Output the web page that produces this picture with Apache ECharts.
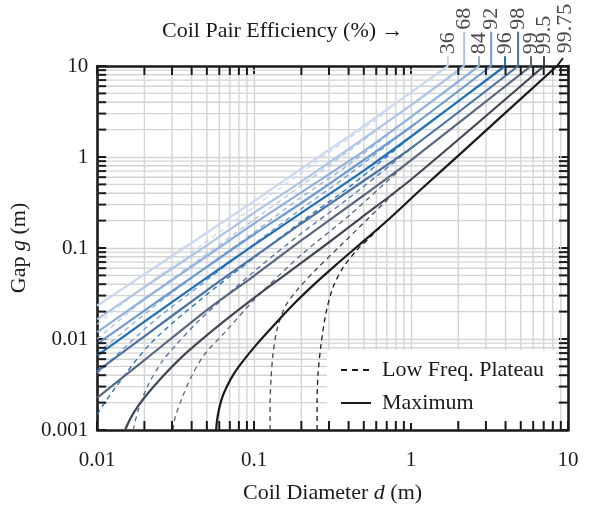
<!DOCTYPE html>
<html><head><meta charset="utf-8">
<script src="https://cdn.jsdelivr.net/npm/echarts@6/dist/echarts.min.js"></script>
<style>html,body{margin:0;padding:0;background:#fff}#c{width:595px;height:509px}</style>
</head><body><div id="c"></div>
<script>
// ---- categories / labels ----
const efficiencyLabels = ['36','68','84','92','96','98','99','99.5','99.75'];
const lineColors = ['#c9d8ef','#adc4e7','#8fb0de','#6b9ad3','#1c6fb8','#4b72a6','#58677f','#414855','#1a1a1a'];
const xTickLabels = ['0.01','0.1','1','10'];
const yTickLabels = ['0.001','0.01','0.1','1','10'];
const minorMultipliers = [2,3,4,5,6,7,8,9];
const xDecades = [0.01,0.1,1];
const yDecades = [0.001,0.01,0.1,1];

// ---- Maximum gap curves (solid) [d, g] ----
const max36 = [[0.01,0.0232],[0.02,0.0515],[0.05,0.147],[0.1,0.328],[0.2,0.743],[0.5,2.20],[1,5.13],[1.72,10]];
const max68 = [[0.01,0.0164],[0.02,0.0372],[0.05,0.107],[0.1,0.244],[0.2,0.537],[0.5,1.60],[1,3.71],[2.18,10]];
const max84 = [[0.01,0.0119],[0.02,0.0275],[0.05,0.0814],[0.1,0.186],[0.2,0.409],[0.5,1.16],[1,2.76],[2.71,10]];
const max92 = [[0.01,0.00883],[0.02,0.0205],[0.05,0.062],[0.1,0.1415],[0.2,0.312],[0.5,0.927],[1,2.15],[3.24,10]];
const max96 = [[0.01,0.00656],[0.02,0.0155],[0.05,0.0472],[0.1,0.108],[0.2,0.243],[0.5,0.709],[1,1.68],[3.97,10]];
const max98 = [[0.01,0.00442],[0.02,0.0107],[0.05,0.0343],[0.1,0.080],[0.2,0.186],[0.5,0.548],[1,1.25],[4.81,10]];
const max99 = [[0.01,0.00226],[0.02,0.00586],[0.05,0.0208],[0.1,0.0495],[0.2,0.121],[0.5,0.38],[0.9157,0.82],[5.81,10]];
const max995 = [[0.01508,0.001],[0.01576,0.00119],[0.01746,0.00164],[0.0202,0.00232],[0.0252,0.00362],[0.0338,0.00609],[0.0453,0.00952],[0.06535,0.016],[0.1,0.0283],[0.153,0.0488],[0.2633,0.0975],[0.4734,0.2102],[1,0.566],[7.03,10]];
const max9975 = [[0.0573,0.001],[0.0581,0.00128],[0.0599,0.00172],[0.0625,0.00226],[0.0673,0.00305],[0.0746,0.0042],[0.0864,0.00594],[0.1045,0.00884],[0.1302,0.01346],[0.1696,0.0221],[0.2274,0.0362],[0.3281,0.064],[0.4734,0.1104],[0.6831,0.1904],[1.141,0.431],[2.051,1.077],[8.51,10]];

// ---- Low frequency plateau curves (dashed) [d, g] ----
const plat36 = [[0.01,0.0145],[0.02176,0.042],[0.0453,0.1051],[0.1,0.2829],[0.1963,0.6567],[0.4088,1.641],[0.6346,2.76],[0.75,3.61]];
const plat68 = [[0.01,0.01],[0.02176,0.0305],[0.0453,0.0762],[0.1,0.205],[0.1963,0.4757],[0.4088,1.189],[0.7349,2.55]];
const plat84 = [[0.01,0.0069],[0.02176,0.021],[0.0453,0.0552],[0.1,0.1486],[0.1963,0.3536],[0.4088,0.841],[0.8509,2.24]];
const plat92 = [[0.01,0.0042],[0.02176,0.0145],[0.0453,0.039],[0.1,0.1104],[0.1963,0.2626],[0.4088,0.6567],[0.9157,1.93]];
const plat96 = [[0.01,0.00149],[0.01302,0.0029],[0.02176,0.00884],[0.0453,0.0269],[0.1,0.0781],[0.1963,0.1904],[0.4088,0.4757],[0.9854,1.641]];
const plat98 = [[0.01696,0.001],[0.01824,0.00164],[0.02113,0.00312],[0.02594,0.00566],[0.0314,0.00841],[0.0453,0.0164],[0.1,0.0552],[0.1963,0.1414],[0.4088,0.3623],[1.141,1.486]];
const plat99 = [[0.03049,0.001],[0.0314,0.00138],[0.03478,0.00226],[0.04028,0.004],[0.04873,0.0069],[0.06535,0.0119],[0.1,0.0269],[0.1963,0.082],[0.4088,0.232],[0.9157,0.82]];
const plat995 = [[0.1264,0.001],[0.1264,0.002],[0.1283,0.00372],[0.1321,0.0069],[0.1401,0.0128],[0.1576,0.0226],[0.1879,0.0345],[0.2446,0.0566],[0.353,0.1051],[0.5481,0.2208],[0.8509,0.4642]];
const plat9975 = [[0.2519,0.001],[0.2519,0.002],[0.2557,0.0042],[0.2673,0.00884],[0.2874,0.0195],[0.3186,0.0372],[0.3688,0.0609],[0.4465,0.0928],[0.5481,0.1313],[0.6831,0.1904]];

// ---- efficiency label leaders (above plot) ----
const labelLeaderEnd = [[1.72,12.8],[2.18,23.8],[2.71,12.8],[3.24,23.8],[3.97,12.8],[4.81,23.8],[5.81,12.8],[7.03,12.8],[9.29,12.2]];
const labelAnchor = [[1.72,13.5],[2.18,25],[2.71,13.5],[3.24,25],[3.97,13.5],[4.81,25],[5.81,13.5],[7.03,13.5],[9.57,13.8]];

const maxCurves = [max36,max68,max84,max92,max96,max98,max99,max995,max9975];
const plateauCurves = [plat36,plat68,plat84,plat92,plat96,plat98,plat99,plat995,plat9975];

const FONT = '"Liberation Serif","Times New Roman",serif';
const INK = '#1a1a1a';
const GRID = '#d4d4d4';
const xMin = 0.01, xMax = 10, yMin = 0.001, yMax = 10;

const xMinor = []; xDecades.forEach(d => minorMultipliers.forEach(m => xMinor.push(+(d*m).toPrecision(3))));
const yMinor = []; yDecades.forEach(d => minorMultipliers.forEach(m => yMinor.push(+(d*m).toPrecision(3))));
const minorData = xMinor.map(v => [v, 1, 0]).concat(yMinor.map(v => [1, v, 1]));

function renderGrid(params, api) {
  const t = api.value(2);
  let a, b;
  if (t === 0) { const v = api.value(0); a = api.coord([v, yMin]); b = api.coord([v, yMax]); }
  else { const v = api.value(1); a = api.coord([xMin, v]); b = api.coord([xMax, v]); }
  return { type: 'line', silent: true, shape: { x1: a[0], y1: a[1], x2: b[0], y2: b[1] }, style: { stroke: GRID, lineWidth: 1.4 } };
}
function renderTicks(params, api) {
  const t = api.value(2), L = 9;
  const st = { stroke: INK, lineWidth: 2 };
  if (t === 0) {
    const v = api.value(0); const a = api.coord([v, yMin]), b = api.coord([v, yMax]);
    return { type: 'group', silent: true, children: [
      { type: 'line', shape: { x1: a[0], y1: a[1], x2: a[0], y2: a[1] - L }, style: st },
      { type: 'line', shape: { x1: b[0], y1: b[1], x2: b[0], y2: b[1] + L }, style: st } ] };
  } else {
    const v = api.value(1); const a = api.coord([xMin, v]), b = api.coord([xMax, v]);
    return { type: 'group', silent: true, children: [
      { type: 'line', shape: { x1: a[0], y1: a[1], x2: a[0] + L, y2: a[1] }, style: st },
      { type: 'line', shape: { x1: b[0], y1: b[1], x2: b[0] - L, y2: b[1] }, style: st } ] };
  }
}

const series = [];
series.push({ type: 'custom', renderItem: renderGrid, data: minorData, z: 1, silent: true, clip: false });
plateauCurves.forEach((d, i) => series.push({
  type: 'line', data: d, symbol: 'none', smooth: 0.3, z: 3, silent: true,
  lineStyle: { color: lineColors[i], width: 1.3, type: [5, 4] }
}));
maxCurves.forEach((d, i) => series.push({
  type: 'line', data: d, symbol: 'none', smooth: 0.3, z: 4, silent: true,
  lineStyle: { color: lineColors[i], width: 2.2 }
}));
maxCurves.forEach((d, i) => series.push({
  type: 'line', data: [d[d.length - 1], labelLeaderEnd[i]], symbol: 'none', clip: false, z: 4, silent: true,
  lineStyle: { color: lineColors[i], width: 2 }
}));
series.push({
  type: 'scatter', symbolSize: 0, clip: false, silent: true, z: 5,
  data: labelAnchor.map((p, i) => ({ name: efficiencyLabels[i], value: p })),
  label: { show: true, formatter: '{b}', rotate: 90, position: 'inside', align: 'left', verticalAlign: 'middle',
           fontFamily: FONT, fontSize: 22, color: INK }
});
series.push({ type: 'custom', renderItem: renderTicks, data: minorData, z: 6, silent: true, clip: false });
series.push({ name: 'Low Freq. Plateau', type: 'line', data: [], symbol: 'none',
              itemStyle: { color: INK, opacity: 0 }, lineStyle: { color: INK, width: 1.5, type: [6, 5] } });
series.push({ name: 'Maximum', type: 'line', data: [], symbol: 'none',
              itemStyle: { color: INK, opacity: 0 }, lineStyle: { color: INK, width: 2.8 } });

const axisLineStyle = { show: true, onZero: false, lineStyle: { color: INK, width: 2.6 } };
const tickStyle = { show: true, inside: true, length: 9, lineStyle: { color: INK, width: 2 } };

const option = {
  animation: false,
  backgroundColor: '#fff',
  title: { text: 'Coil Pair Efficiency (%) \u2192', left: 157, top: 15,
           textStyle: { fontFamily: FONT, fontSize: 22, fontWeight: 'normal', color: INK } },
  legend: {
    data: ['Low Freq. Plateau', 'Maximum'], orient: 'vertical', left: 327, top: 350,
    backgroundColor: '#fff', padding: [9, 12, 9, 13], itemWidth: 30, itemHeight: 14, itemGap: 11,
    itemStyle: { opacity: 0 },
    selectedMode: false, textStyle: { fontFamily: FONT, fontSize: 22, color: INK, padding: [0, 0, 0, 6] }
  },
  grid: { left: 97, right: 27, top: 66, bottom: 71, containLabel: false },
  xAxis: [
    { type: 'log', logBase: 10, min: xMin, max: xMax, position: 'bottom',
      axisLine: axisLineStyle, axisTick: tickStyle,
      axisLabel: { margin: 20, fontFamily: FONT, fontSize: 21, color: INK,
                   formatter: v => xTickLabels[Math.round(Math.log10(v)) + 2] },
      splitLine: { show: true, lineStyle: { color: GRID, width: 1.4 } },
      name: 'Coil Diameter {i|d} (m)', nameLocation: 'middle', nameGap: 52,
      nameTextStyle: { fontFamily: FONT, fontSize: 22, color: INK,
                       rich: { i: { fontFamily: FONT, fontSize: 22, fontStyle: 'italic', color: INK } } } },
    { type: 'log', logBase: 10, min: xMin, max: xMax, position: 'top',
      axisLine: axisLineStyle, axisTick: tickStyle, axisLabel: { show: false }, splitLine: { show: false } }
  ],
  yAxis: [
    { type: 'log', logBase: 10, min: yMin, max: yMax, position: 'left',
      axisLine: axisLineStyle, axisTick: tickStyle,
      axisLabel: { margin: 9, fontFamily: FONT, fontSize: 21, color: INK,
                   formatter: v => yTickLabels[Math.round(Math.log10(v)) + 3] },
      splitLine: { show: true, lineStyle: { color: GRID, width: 1.4 } },
      name: 'Gap {i|g} (m)', nameLocation: 'middle', nameGap: 58,
      nameTextStyle: { fontFamily: FONT, fontSize: 22, color: INK,
                       rich: { i: { fontFamily: FONT, fontSize: 22, fontStyle: 'italic', color: INK } } } },
    { type: 'log', logBase: 10, min: yMin, max: yMax, position: 'right',
      axisLine: axisLineStyle, axisTick: tickStyle, axisLabel: { show: false }, splitLine: { show: false } }
  ],
  series: series
};
const chart = echarts.init(document.getElementById('c'));
chart.setOption(option);
</script></body></html>
